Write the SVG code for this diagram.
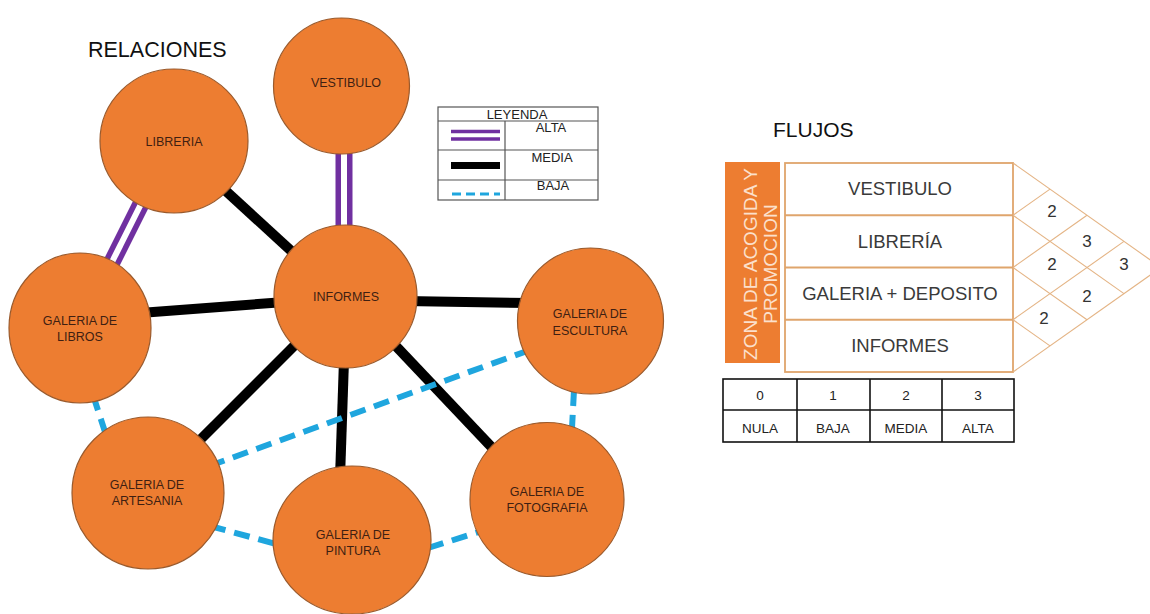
<svg xmlns="http://www.w3.org/2000/svg" width="1150" height="614" viewBox="0 0 1150 614">
<style>
.node{fill:#ed7d31;stroke:#9a5a2c;stroke-width:1.2}
.nl{font-family:"Liberation Sans",Arial,sans-serif;font-size:12.5px;fill:#3f1f12;text-anchor:middle}
.media{stroke:#000;stroke-width:10;fill:none}
.baja{stroke:#1fa6de;stroke-width:6;stroke-dasharray:16 9;fill:none}
.altaO{stroke:#7030a0;stroke-width:17;fill:none}
.altaI{stroke:#fff;stroke-width:6;fill:none}
.title{font-family:"Liberation Sans",Arial,sans-serif;fill:#111}
.leg{font-family:"Liberation Sans",Arial,sans-serif;font-size:13px;fill:#222;text-anchor:middle}
.lgline{stroke:#555;stroke-width:1.2;fill:none}
.tb{font-family:"Liberation Sans",Arial,sans-serif;font-size:18.5px;fill:#3a3a3a;text-anchor:middle}
.tline{stroke:#dfa56c;stroke-width:1.8;fill:#fff}
.diag{stroke:#e4b485;stroke-width:1.1;fill:none}
.num{font-family:"Liberation Sans",Arial,sans-serif;font-size:17px;fill:#333;text-anchor:middle}
.bt{font-family:"Liberation Sans",Arial,sans-serif;font-size:13.5px;fill:#222;text-anchor:middle}
</style>
<rect width="1150" height="614" fill="#fff"/>
<text class="title" x="88" y="57" font-size="21.5">RELACIONES</text>

<g id="connectors">
  <line class="media" x1="215" y1="181" x2="300" y2="259"/>
  <line class="media" x1="140" y1="313" x2="285" y2="302"/>
  <line class="media" x1="405" y1="301" x2="530" y2="303"/>
  <line class="media" x1="300" y1="340" x2="193" y2="447"/>
  <line class="media" x1="344" y1="360" x2="340" y2="478"/>
  <line class="media" x1="393" y1="343" x2="500" y2="456"/>
  <line class="baja" x1="93" y1="395" x2="107" y2="438"/>
  <line class="baja" x1="530" y1="350" x2="212" y2="465"/>
  <line class="baja" x1="574" y1="390" x2="572" y2="428"/>
  <line class="baja" x1="210" y1="526" x2="280" y2="545"/>
  <line class="baja" x1="428" y1="548" x2="482" y2="531"/>
  <line class="altaO" x1="344" y1="148" x2="344" y2="232"/>
  <line class="altaI" x1="344" y1="148" x2="344" y2="232"/>
  <line class="altaO" x1="143" y1="200" x2="109" y2="268"/>
  <line class="altaI" x1="143" y1="200" x2="109" y2="268"/>
</g>

<g id="n-vestibulo"><ellipse class="node" cx="341.5" cy="86" rx="68" ry="68"/><text class="nl" x="346" y="86.5">VESTIBULO</text></g>
<g id="n-libreria"><ellipse class="node" cx="174" cy="141" rx="74" ry="72"/><text class="nl" x="174" y="145.5">LIBRERIA</text></g>
<g id="n-informes"><ellipse class="node" cx="345.5" cy="296.5" rx="71.5" ry="71.5"/><text class="nl" x="346" y="300.5">INFORMES</text></g>
<g id="n-libros"><ellipse class="node" cx="80" cy="328" rx="71" ry="75"/><text class="nl" x="80" y="324.5">GALERIA DE</text><text class="nl" x="80" y="340.5">LIBROS</text></g>
<g id="n-escultura"><ellipse class="node" cx="590.5" cy="321" rx="73" ry="73"/><text class="nl" x="590" y="318">GALERIA DE</text><text class="nl" x="590" y="335">ESCULTURA</text></g>
<g id="n-artesania"><ellipse class="node" cx="148" cy="493" rx="76" ry="76"/><text class="nl" x="147" y="489">GALERIA DE</text><text class="nl" x="147" y="505">ARTESANIA</text></g>
<g id="n-pintura"><ellipse class="node" cx="352" cy="540" rx="79" ry="74"/><text class="nl" x="353" y="539">GALERIA DE</text><text class="nl" x="353" y="555">PINTURA</text></g>
<g id="n-fotografia"><ellipse class="node" cx="547" cy="499.5" rx="77" ry="77"/><text class="nl" x="547" y="496">GALERIA DE</text><text class="nl" x="547" y="512">FOTOGRAFIA</text></g>

<g id="leyenda">
  <rect class="lgline" x="438" y="107" width="160" height="93"/>
  <line class="lgline" x1="438" y1="121" x2="598" y2="121"/>
  <line class="lgline" x1="438" y1="150" x2="598" y2="150"/>
  <line class="lgline" x1="438" y1="180" x2="598" y2="180"/>
  <line class="lgline" x1="505" y1="121" x2="505" y2="200"/>
  <text class="leg" x="517" y="118.5">LEYENDA</text>
  <line x1="451" y1="131.5" x2="500" y2="131.5" stroke="#7030a0" stroke-width="3.5"/>
  <line x1="451" y1="139" x2="500" y2="139" stroke="#7030a0" stroke-width="3.5"/>
  <line x1="451" y1="165.5" x2="500" y2="165.5" stroke="#000" stroke-width="7"/>
  <line x1="452" y1="194" x2="500" y2="194" stroke="#1fa6de" stroke-width="3" stroke-dasharray="9 5"/>
  <text class="leg" x="551" y="132">ALTA</text>
  <text class="leg" x="552" y="162">MEDIA</text>
  <text class="leg" x="553" y="190">BAJA</text>
</g>

<text class="title" x="773" y="137" font-size="21">FLUJOS</text>

<g id="flujos">
  <rect x="725" y="162" width="55" height="201" fill="#ed7d31"/>
  <text transform="translate(757,264) rotate(-90)" font-family="'Liberation Sans',Arial,sans-serif" font-size="19" fill="#fbe0cc" text-anchor="middle">ZONA DE ACOGIDA Y</text>
  <text transform="translate(777,264) rotate(-90)" font-family="'Liberation Sans',Arial,sans-serif" font-size="19" fill="#fbe0cc" text-anchor="middle">PROMOCION</text>
  <rect class="tline" x="785" y="163" width="228" height="209"/>
  <line class="tline" x1="785" y1="215.25" x2="1013" y2="215.25"/>
  <line class="tline" x1="785" y1="267.5" x2="1013" y2="267.5"/>
  <line class="tline" x1="785" y1="319.75" x2="1013" y2="319.75"/>
  <text class="tb" x="900" y="195">VESTIBULO</text>
  <text class="tb" x="900" y="248">LIBRERÍA</text>
  <text class="tb" x="900" y="300">GALERIA + DEPOSITO</text>
  <text class="tb" x="900" y="352">INFORMES</text>
  <g class="diag">
    <line x1="1013" y1="163" x2="1161" y2="267.5"/>
    <line x1="1013" y1="215.25" x2="1124" y2="293.6"/>
    <line x1="1013" y1="267.5" x2="1087" y2="319.75"/>
    <line x1="1013" y1="319.75" x2="1050" y2="345.9"/>
    <line x1="1013" y1="372" x2="1161" y2="267.5"/>
    <line x1="1013" y1="319.75" x2="1124" y2="241.4"/>
    <line x1="1013" y1="267.5" x2="1087" y2="215.25"/>
    <line x1="1013" y1="215.25" x2="1050" y2="189.1"/>
  </g>
  <text class="num" x="1052" y="217">2</text>
  <text class="num" x="1087" y="247">3</text>
  <text class="num" x="1052" y="270">2</text>
  <text class="num" x="1124" y="270">3</text>
  <text class="num" x="1087" y="302">2</text>
  <text class="num" x="1044" y="324">2</text>
</g>

<g id="escala">
  <rect x="723" y="379" width="291" height="63" fill="none" stroke="#111" stroke-width="1.6"/>
  <line x1="723" y1="410" x2="1014" y2="410" stroke="#111" stroke-width="1.6"/>
  <line x1="797" y1="379" x2="797" y2="442" stroke="#111" stroke-width="1.6"/>
  <line x1="870" y1="379" x2="870" y2="442" stroke="#111" stroke-width="1.6"/>
  <line x1="942" y1="379" x2="942" y2="442" stroke="#111" stroke-width="1.6"/>
  <text class="bt" x="760" y="400">0</text>
  <text class="bt" x="833" y="400">1</text>
  <text class="bt" x="906" y="400">2</text>
  <text class="bt" x="978" y="400">3</text>
  <text class="bt" x="760" y="433">NULA</text>
  <text class="bt" x="833" y="433">BAJA</text>
  <text class="bt" x="906" y="433">MEDIA</text>
  <text class="bt" x="978" y="433">ALTA</text>
</g>
</svg>
